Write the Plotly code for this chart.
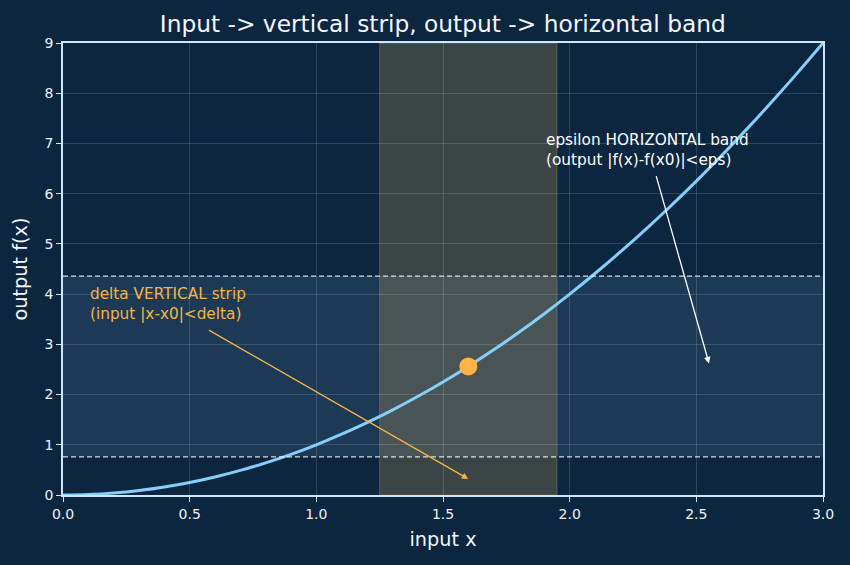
import plotly.graph_objects as go

# data
x_vals = [0.0, 0.1, 0.2, 0.3, 0.4, 0.5, 0.6, 0.7, 0.8, 0.9, 1.0, 1.1, 1.2, 1.3, 1.4, 1.5,
          1.6, 1.7, 1.8, 1.9, 2.0, 2.1, 2.2, 2.3, 2.4, 2.5, 2.6, 2.7, 2.8, 2.9, 3.0]
y_vals = [0.0, 0.01, 0.04, 0.09, 0.16, 0.25, 0.36, 0.49, 0.64, 0.81, 1.0, 1.21, 1.44, 1.69,
          1.96, 2.25, 2.56, 2.89, 3.24, 3.61, 4.0, 4.41, 4.84, 5.29, 5.76, 6.25, 6.76, 7.29,
          7.84, 8.41, 9.0]
x0 = [1.6]
fx0 = [2.56]
strip_x = [1.25, 1.95]      # delta vertical strip
band_y = [0.76, 4.36]       # epsilon horizontal band
x_ticks = [0.0, 0.5, 1.0, 1.5, 2.0, 2.5, 3.0]
x_tick_text = ["0.0", "0.5", "1.0", "1.5", "2.0", "2.5", "3.0"]
y_ticks = [0, 1, 2, 3, 4, 5, 6, 7, 8, 9]

BG = "#0c2640"
AX = "#cfe6fa"
FONT = "DejaVu Sans"

fig = go.Figure()

# horizontal band
fig.add_shape(type="rect", xref="x domain", yref="y", x0=0, x1=1,
              y0=band_y[0], y1=band_y[1], fillcolor="rgba(150,200,240,0.12)",
              line_width=0, layer="below")
# vertical strip
fig.add_shape(type="rect", xref="x", yref="y domain", x0=strip_x[0], x1=strip_x[1],
              y0=0, y1=1, fillcolor="rgba(255,195,90,0.20)",
              line=dict(color="rgba(255,190,90,0.25)", width=1), layer="below")
# dashed band edges
for yv in band_y:
    fig.add_shape(type="line", xref="x domain", yref="y", x0=0, x1=1, y0=yv, y1=yv,
                  line=dict(color="rgba(235,240,248,0.9)", width=1.2, dash="5px,3px"),
                  layer="above")

fig.add_trace(go.Scatter(x=x_vals, y=y_vals, mode="lines", line_shape="spline",
                         line=dict(color="#87cefa", width=3), hoverinfo="skip",
                         showlegend=False))
fig.add_trace(go.Scatter(x=x0, y=fx0, mode="markers",
                         marker=dict(color="#ffb347", size=18), showlegend=False))

# annotations: text
fig.add_annotation(x=0.1, y=3.38, xref="x", yref="y", showarrow=False,
                   text="delta VERTICAL strip<br>(input |x-x0|<delta)",
                   xanchor="left", yanchor="bottom", align="left",
                   font=dict(family=FONT, size=15.3, color="#f5b547"))
fig.add_annotation(x=1.9, y=6.46, xref="x", yref="y", showarrow=False,
                   text="epsilon HORIZONTAL band<br>(output |f(x)-f(x0)|<eps)",
                   xanchor="left", yanchor="bottom", align="left",
                   font=dict(family=FONT, size=15.3, color="#ffffff"))
# arrows
fig.add_annotation(x=1.6, y=0.32, ax=0.57, ay=3.3, xref="x", yref="y",
                   axref="x", ayref="y", text="", showarrow=True,
                   arrowhead=2, arrowsize=1, arrowwidth=1.3, arrowcolor="#f5b547",
                   standoff=0, startstandoff=0)
fig.add_annotation(x=2.55, y=2.62, ax=2.34, ay=6.38, xref="x", yref="y",
                   axref="x", ayref="y", text="", showarrow=True,
                   arrowhead=2, arrowsize=1, arrowwidth=1.3, arrowcolor="#ffffff",
                   standoff=0, startstandoff=0)

axis_common = dict(showline=True, linecolor=AX, linewidth=1.6, mirror=True,
                   ticks="outside", ticklen=5, tickwidth=1.4, tickcolor=AX,
                   showgrid=True, gridcolor="rgba(255,255,255,0.14)", gridwidth=1,
                   zeroline=False, tickfont=dict(family=FONT, size=14, color="#eef3f8"))

fig.update_layout(
    width=850, height=565,
    paper_bgcolor=BG, plot_bgcolor=BG,
    margin=dict(l=63, r=27, t=43, b=70),
    title=dict(text="Input -> vertical strip, output -> horizontal band",
               x=0.521, xanchor="center", y=0.957, yanchor="middle",
               font=dict(family=FONT, size=23.3, color="#f4f7fb")),
    xaxis=dict(range=[0, 3], tickvals=x_ticks, ticktext=x_tick_text,
               title=dict(text="input x", standoff=12,
                          font=dict(family=FONT, size=19.3, color="#f4f7fb")),
               **axis_common),
    yaxis=dict(range=[0, 9], tickvals=y_ticks,
               title=dict(text="output f(x)", standoff=12,
                          font=dict(family=FONT, size=19.3, color="#f4f7fb")),
               **axis_common),
    showlegend=False,
)

fig.write_html("out.html")
